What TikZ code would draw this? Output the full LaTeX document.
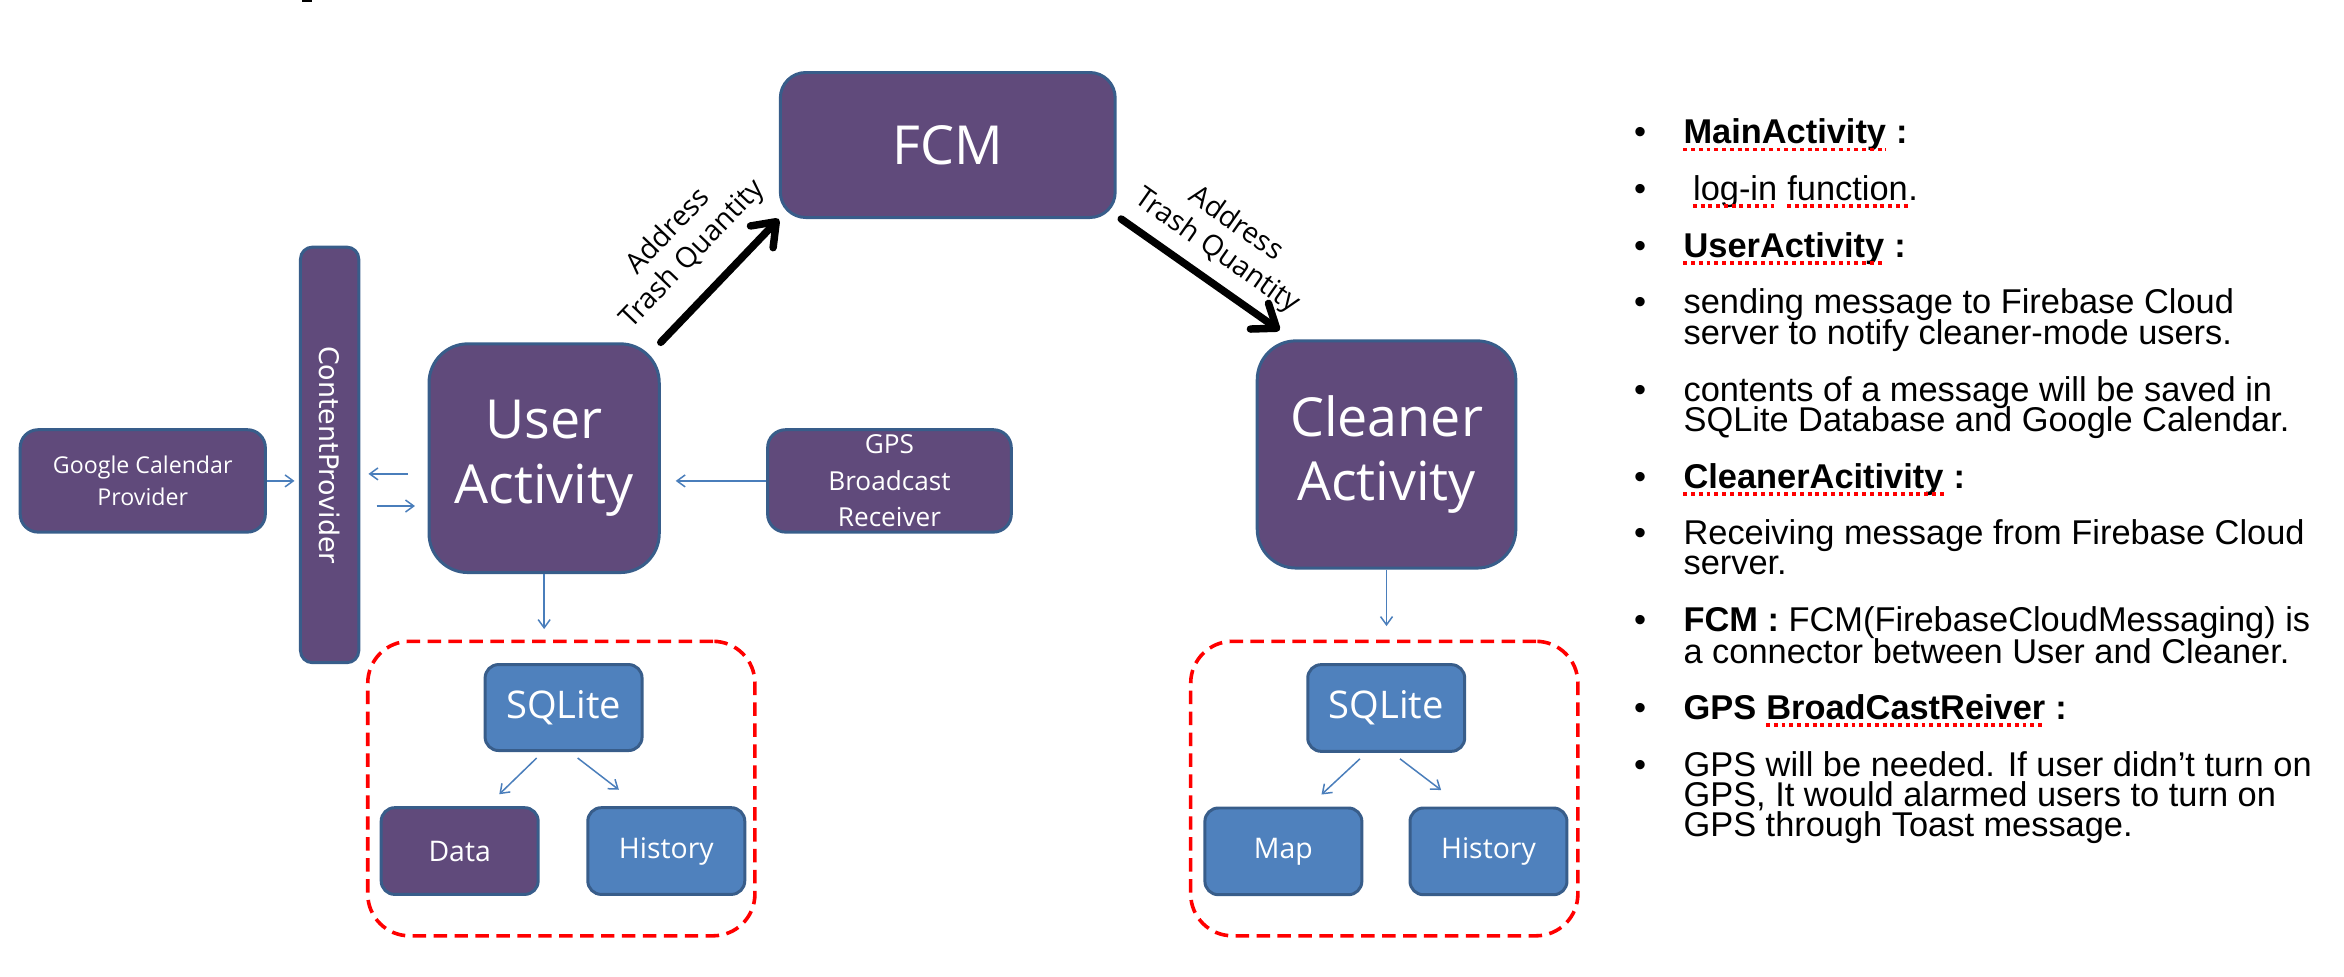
\documentclass[tikz,border=0pt]{standalone}
\usepackage{fontspec}
\setmainfont{Liberation Sans}
\newfontfamily\dfont{Open Sans}
\newfontfamily\cpfont{DejaVu Sans}
\usetikzlibrary{arrows.meta,calc}
\definecolor{purp}{HTML}{604A7B}
\definecolor{blu}{HTML}{4F81BD}
\definecolor{bord}{HTML}{385D8A}
\definecolor{connc}{HTML}{4A7EBB}
\definecolor{redd}{HTML}{FF0000}
\begin{document}
\begin{tikzpicture}[x=1pt,y=-1pt,
  box/.style={draw=bord, line width=2pt, inner sep=0pt, align=center, text=white},
  pbox/.style={box, fill=purp},
  bbox/.style={box, fill=blu},
  redbox/.style={draw=redd, line width=2.4pt, dash pattern=on 9pt off 5pt, rounded corners=28pt, inner sep=0pt},
  thinarr/.style={draw=connc, line width=1pt, -{Straight Barb[length=5.5pt,width=8pt]}},
  bigarr/.style={draw=black, line width=5pt, line cap=round, -{Straight Barb[length=14pt,width=21pt,round]}},
  lbl/.style={font=\dfont\fontsize{19}{22}\selectfont, align=center, inner sep=0pt, sloped, text=black},
  txt/.style={anchor=base west, inner sep=0pt, font=\fontsize{23}{20}\selectfont},
  squig/.style={draw=redd, line width=2.6pt, dash pattern=on 2.6pt off 2.6pt}
]
\useasboundingbox (0,0) rectangle (1568,653);

% fragment of a cut-off title at the top edge
\fill[black] (202,0) rectangle (208.7,1.4);

% containers
\node[redbox, minimum width=259pt, minimum height=197pt] (rbl) at (375.5,527.5) {};
\node[redbox, minimum width=259pt, minimum height=197pt] (rbr) at (926,527.5) {};

% main boxes
\node[pbox, rounded corners=17pt, minimum width=224pt, minimum height=97pt,
      font=\dfont\fontsize{36}{43}\selectfont] (fcm) at (634,97) {FCM};
\node[pbox, rounded corners=26pt, minimum width=154pt, minimum height=153pt,
      font=\dfont\fontsize{36}{43}\selectfont] (ua) at (364,306.5) {User\\Activity};
\node[pbox, rounded corners=26pt, minimum width=173pt, minimum height=152pt,
      font=\dfont\fontsize{36}{43}\selectfont] (ca) at (927.5,304) {Cleaner\\Activity};
\node[pbox, rounded corners=8pt, minimum width=39pt, minimum height=278pt,
      font=\cpfont\fontsize{18}{20}\selectfont] (cp) at (220.5,304.3) {\rotatebox{-90}{ContentProvider}};
\node[pbox, rounded corners=12pt, minimum width=164pt, minimum height=68.5pt,
      font=\dfont\fontsize{15.5}{21}\selectfont] (gc) at (95.5,321.7) {Google Calendar\\Provider};
\node[pbox, rounded corners=12pt, minimum width=163pt, minimum height=68.5pt,
      font=\dfont\fontsize{17.5}{24.5}\selectfont] (gps) at (595,321.7) {GPS\\Broadcast\\Receiver};

% database boxes
\node[bbox, rounded corners=9pt, minimum width=105pt, minimum height=57.5pt,
      font=\dfont\fontsize{25.5}{30}\selectfont] (sqll) at (377,473.3) {SQLite};
\node[bbox, rounded corners=9pt, minimum width=105pt, minimum height=58pt,
      font=\dfont\fontsize{25.5}{30}\selectfont] (sqlr) at (927.3,473.6) {SQLite};
\node[pbox, rounded corners=9pt, minimum width=105pt, minimum height=58pt,
      font=\dfont\fontsize{19}{23}\selectfont] (data) at (307.5,569.3) {Data};
\node[bbox, rounded corners=9pt, minimum width=105pt, minimum height=58pt,
      font=\dfont\fontsize{19}{23}\selectfont] (hl) at (445.7,569.3) {History};
\node[bbox, rounded corners=9pt, minimum width=105pt, minimum height=58pt,
      font=\dfont\fontsize{19}{23}\selectfont] (map) at (858.5,569.5) {Map};
\node[bbox, rounded corners=9pt, minimum width=105pt, minimum height=58pt,
      font=\dfont\fontsize{19}{23}\selectfont] (hr) at (995.7,569.5) {History};

% thick arrows with labels
\draw[bigarr] (ua.north east) -- node[lbl, above=13pt] {Address\\Trash Quantity} (fcm.south west);
\draw[bigarr] ([xshift=3pt]fcm.south east) -- node[lbl, above=7pt] {Address\\Trash Quantity} ([xshift=16pt,yshift=6pt]ca.north west);

% thin connectors
\coordinate (p1) at (273,317);
\coordinate (p2) at (246.5,317);
\coordinate (p3) at (252,338.5);
\coordinate (p4) at (277.6,338.5);
\draw[thinarr] (gc.east) -- ([xshift=-3pt]gc.east -| cp.west);
\draw[thinarr] (p1) -- (p2);
\draw[thinarr] (p3) -- (p4);
\draw[thinarr] (gps.west) -- ([xshift=10pt]gps.west -| ua.east);
\draw[thinarr] (ua.south) -- ([yshift=7pt]rbl.north -| ua.south);
\draw[thinarr] (ca.south) -- ([yshift=9pt]rbr.north -| ca.south);
\draw[thinarr] ([xshift=-18pt,yshift=-4pt]sqll.south) -- ([xshift=26.5pt,yshift=8pt]data.north);
\draw[thinarr] ([xshift=9.4pt,yshift=-4pt]sqll.south) -- ([xshift=-31.7pt,yshift=11pt]hl.north);
\draw[thinarr] ([xshift=-17.6pt,yshift=-4pt]sqlr.south) -- ([xshift=25.5pt,yshift=8pt]map.north);
\draw[thinarr] ([xshift=9.2pt,yshift=-4pt]sqlr.south) -- ([xshift=-31.7pt,yshift=11pt]hr.north);

% right text panel
\foreach \yy/\nm in {96/b1,134/b2,172/b3,210/b4,268.7/b5,326.6/b6,364.5/b7,422.5/b8,481.2/b9,519.1/b10}
  \node[txt] (\nm) at (1093,\yy) {•};

\node[txt] (m1) at (1126,96) {\bfseries MainActivity};
\node[txt] (m1c) at (m1.base east) {\bfseries\ :};
\node[txt] (l2a) at (1132.4,134) {log-in};
\node[txt] (l2b) at ([xshift=6.4pt]l2a.base east) {function};
\node[txt] (l2c) at (l2b.base east) {.};
\node[txt] (u1) at (1126,172) {\bfseries UserActivity};
\node[txt] (u1c) at (u1.base east) {\bfseries\ :};
\node[txt] (s1) at (1126,210) {sending message to Firebase Cloud};
\node[txt] (s2) at (1126,230.5) {server to notify cleaner-mode users.};
\node[txt] (c1) at (1126,268.7) {contents of a message will be saved in};
\node[txt] (c2) at (1126,288.8) {SQLite Database and Google Calendar.};
\node[txt] (k1) at (1126,326.6) {\bfseries CleanerAcitivity};
\node[txt] (k1c) at (k1.base east) {\bfseries\ :};
\node[txt] (r1) at (1126,364.5) {Receiving message from Firebase Cloud};
\node[txt] (r2) at (1126,384.6) {server.};
\node[txt] (f1) at (1126,422.5) {\textbf{FCM :} FCM(FirebaseCloudMessaging) is};
\node[txt] (f2) at (1126,443.7) {a connector between User and Cleaner.};
\node[txt] (g1) at (1126,481.2) {\bfseries GPS};
\node[txt] (g2) at ([xshift=6.4pt]g1.base east) {\bfseries BroadCastReiver};
\node[txt] (g3) at (g2.base east) {\bfseries\ :};
\node[txt] (h1) at (1126,519.1) {GPS will be needed. If user didn’t turn on};
\node[txt] (h2) at (1126,539.6) {GPS, It would alarmed users to turn on};
\node[txt] (h3) at (1126,559.6) {GPS through Toast message.};

% spell-check underlines
\foreach \nm in {m1,l2a,l2b,u1,k1,g2}
  \draw[squig] ([yshift=-4pt]\nm.base west) -- ([yshift=-4pt]\nm.base east);
\end{tikzpicture}
\end{document}
